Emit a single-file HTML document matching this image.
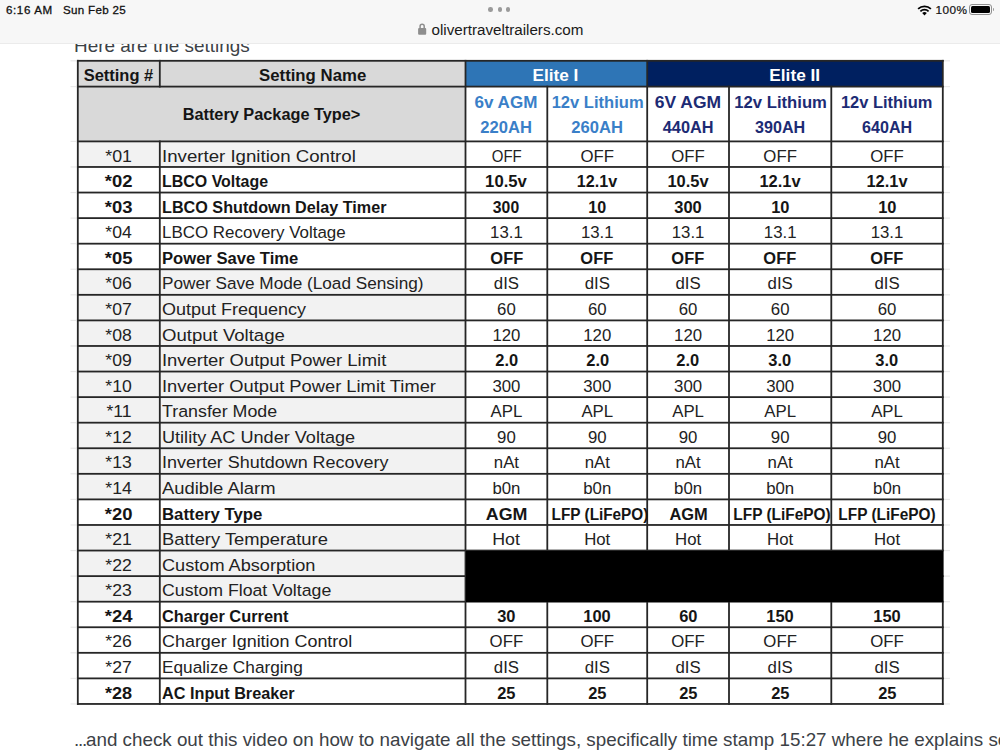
<!DOCTYPE html>
<html><head><meta charset="utf-8"><style>
html,body{margin:0;padding:0;}
body{width:1000px;height:750px;overflow:hidden;position:relative;background:#fff;font-family:"Liberation Sans",sans-serif;}
.r{position:absolute;}
.t{position:absolute;line-height:1;white-space:nowrap;text-align:center;}
.t span{display:inline-block;transform-origin:50% 50%;}
.t.l span{transform-origin:0 50%;}
#bar{position:absolute;left:0;top:0;width:1000px;height:43.4px;background:#f7f7f7;border-bottom:1px solid #ebebeb;z-index:5;}
.st{position:absolute;line-height:1;white-space:nowrap;color:#111;}
.pg{position:absolute;line-height:1;white-space:nowrap;color:#3c4146;}
</style></head><body>
<div class="pg" style="left:74px;top:36.66px;font-size:18.6px;"><span style="display:inline-block;transform-origin:0 50%;transform:scaleX(1.018)">Here are the settings</span></div>
<div id="bar">
 <div class="st" style="left:6px;top:4.28px;font-size:11.6px;letter-spacing:0.6px;-webkit-text-stroke:0.3px #111;">6:16 AM</div>
 <div class="st" style="left:63px;top:4.28px;font-size:11.6px;letter-spacing:0.6px;-webkit-text-stroke:0.3px #111;"><span style="letter-spacing:0.3px">Sun Feb 25</span></div>
 <div class="r" style="left:488px;top:7.3px;width:4.6px;height:4.6px;border-radius:50%;background:#9a9a9a"></div>
 <div class="r" style="left:497.7px;top:7.3px;width:4.6px;height:4.6px;border-radius:50%;background:#9a9a9a"></div>
 <div class="r" style="left:505.5px;top:7.3px;width:4.6px;height:4.6px;border-radius:50%;background:#9a9a9a"></div>
 <svg class="r" style="left:417px;top:22px" width="11" height="14" viewBox="0 0 11 14"><path d="M3.1 6.2 V4.3 A2.05 2.05 0 0 1 7.2 4.3 V6.2" fill="none" stroke="#8e8e8e" stroke-width="1.5"/><rect x="1.1" y="5.9" width="8.1" height="6.9" rx="1" fill="#8e8e8e"/></svg>
 <div class="st" style="left:431.5px;top:22.13px;font-size:15.2px;color:#1a1a1a">olivertraveltrailers.com</div>
 <svg class="r" style="left:917px;top:4.6px" width="15" height="11" viewBox="0 0 15 11"><path d="M7.5 10.6 L5.2 8.1 A3.3 3.3 0 0 1 9.8 8.1 Z" fill="#000"/><path d="M3.4 6.3 A5.9 5.9 0 0 1 11.6 6.3" fill="none" stroke="#000" stroke-width="1.7"/><path d="M1.1 3.9 A9.2 9.2 0 0 1 13.9 3.9" fill="none" stroke="#000" stroke-width="1.7"/></svg>
 <div class="st" style="left:935.5px;top:4.71px;font-size:11.8px;letter-spacing:0.45px;-webkit-text-stroke:0.2px #111;">100%</div>
 <div class="r" style="left:969.3px;top:4px;width:21px;height:9px;border:1px solid #8f8f8f;border-radius:3px;"></div>
 <div class="r" style="left:971.2px;top:5.8px;width:19.3px;height:7.4px;background:#000;border-radius:1.5px;"></div>
 <div class="r" style="left:993.3px;top:8px;width:1.2px;height:3.4px;background:#9a9a9a;border-radius:0 1px 1px 0;"></div>
</div>
<div class="r" style="left:77.80px;top:60.80px;width:387.70px;height:25.80px;background:#d9d9d9"></div>
<div class="r" style="left:465.50px;top:60.80px;width:181.70px;height:25.80px;background:#2e75b6"></div>
<div class="r" style="left:647.20px;top:60.80px;width:295.60px;height:25.80px;background:#002060"></div>
<div class="r" style="left:77.80px;top:86.60px;width:387.70px;height:54.80px;background:#d9d9d9"></div>
<div class="r" style="left:77.80px;top:141.40px;width:387.70px;height:25.57px;background:#f2f2f2"></div>
<div class="r" style="left:77.80px;top:269.25px;width:387.70px;height:25.57px;background:#f2f2f2"></div>
<div class="r" style="left:77.80px;top:294.83px;width:387.70px;height:25.57px;background:#f2f2f2"></div>
<div class="r" style="left:77.80px;top:320.40px;width:387.70px;height:25.57px;background:#f2f2f2"></div>
<div class="r" style="left:77.80px;top:345.97px;width:387.70px;height:25.57px;background:#f2f2f2"></div>
<div class="r" style="left:77.80px;top:371.54px;width:387.70px;height:25.57px;background:#f2f2f2"></div>
<div class="r" style="left:77.80px;top:397.11px;width:387.70px;height:25.57px;background:#f2f2f2"></div>
<div class="r" style="left:77.80px;top:422.68px;width:387.70px;height:25.57px;background:#f2f2f2"></div>
<div class="r" style="left:77.80px;top:448.25px;width:387.70px;height:25.57px;background:#f2f2f2"></div>
<div class="r" style="left:77.80px;top:473.82px;width:387.70px;height:25.57px;background:#f2f2f2"></div>
<div class="r" style="left:77.80px;top:524.97px;width:387.70px;height:25.57px;background:#f2f2f2"></div>
<div class="r" style="left:77.80px;top:550.54px;width:387.70px;height:25.57px;background:#f2f2f2"></div>
<div class="r" style="left:77.80px;top:576.11px;width:387.70px;height:25.57px;background:#f2f2f2"></div>
<svg class="r" style="left:0;top:0" width="1000" height="750" viewBox="0 0 1000 750"><rect x="76.90" y="59.90" width="866.80" height="1.8" fill="#262626"/><rect x="76.90" y="85.70" width="866.80" height="1.8" fill="#262626"/><rect x="76.90" y="140.50" width="866.80" height="1.8" fill="#262626"/><rect x="76.90" y="166.07" width="866.80" height="1.8" fill="#262626"/><rect x="76.90" y="191.64" width="866.80" height="1.8" fill="#262626"/><rect x="76.90" y="217.21" width="866.80" height="1.8" fill="#262626"/><rect x="76.90" y="242.78" width="866.80" height="1.8" fill="#262626"/><rect x="76.90" y="268.36" width="866.80" height="1.8" fill="#262626"/><rect x="76.90" y="293.93" width="866.80" height="1.8" fill="#262626"/><rect x="76.90" y="319.50" width="866.80" height="1.8" fill="#262626"/><rect x="76.90" y="345.07" width="866.80" height="1.8" fill="#262626"/><rect x="76.90" y="370.64" width="866.80" height="1.8" fill="#262626"/><rect x="76.90" y="396.21" width="866.80" height="1.8" fill="#262626"/><rect x="76.90" y="421.78" width="866.80" height="1.8" fill="#262626"/><rect x="76.90" y="447.35" width="866.80" height="1.8" fill="#262626"/><rect x="76.90" y="472.92" width="866.80" height="1.8" fill="#262626"/><rect x="76.90" y="498.49" width="866.80" height="1.8" fill="#262626"/><rect x="76.90" y="524.07" width="866.80" height="1.8" fill="#262626"/><rect x="76.90" y="549.64" width="866.80" height="1.8" fill="#262626"/><rect x="76.90" y="575.21" width="866.80" height="1.8" fill="#262626"/><rect x="76.90" y="600.78" width="866.80" height="1.8" fill="#262626"/><rect x="76.90" y="626.35" width="866.80" height="1.8" fill="#262626"/><rect x="76.90" y="651.92" width="866.80" height="1.8" fill="#262626"/><rect x="76.90" y="677.49" width="866.80" height="1.8" fill="#262626"/><rect x="76.90" y="703.06" width="866.80" height="1.8" fill="#262626"/><rect x="76.90" y="59.90" width="1.8" height="644.96" fill="#262626"/><rect x="941.90" y="59.90" width="1.8" height="644.96" fill="#262626"/><rect x="158.90" y="59.90" width="1.8" height="27.60" fill="#262626"/><rect x="158.90" y="140.50" width="1.8" height="564.36" fill="#262626"/><rect x="464.60" y="59.90" width="1.8" height="644.96" fill="#262626"/><rect x="646.30" y="59.90" width="1.8" height="644.96" fill="#262626"/><rect x="546.40" y="85.70" width="1.8" height="619.16" fill="#262626"/><rect x="728.10" y="85.70" width="1.8" height="619.16" fill="#262626"/><rect x="830.40" y="85.70" width="1.8" height="619.16" fill="#262626"/><rect x="70.5" y="60.20" width="6" height="1.2" fill="#e9e9e9"/><rect x="944" y="60.20" width="6" height="1.2" fill="#e9e9e9"/><rect x="70.5" y="86.00" width="6" height="1.2" fill="#e9e9e9"/><rect x="944" y="86.00" width="6" height="1.2" fill="#e9e9e9"/><rect x="70.5" y="140.80" width="6" height="1.2" fill="#e9e9e9"/><rect x="944" y="140.80" width="6" height="1.2" fill="#e9e9e9"/><rect x="70.5" y="166.37" width="6" height="1.2" fill="#e9e9e9"/><rect x="944" y="166.37" width="6" height="1.2" fill="#e9e9e9"/><rect x="70.5" y="191.94" width="6" height="1.2" fill="#e9e9e9"/><rect x="944" y="191.94" width="6" height="1.2" fill="#e9e9e9"/><rect x="70.5" y="217.51" width="6" height="1.2" fill="#e9e9e9"/><rect x="944" y="217.51" width="6" height="1.2" fill="#e9e9e9"/><rect x="70.5" y="243.08" width="6" height="1.2" fill="#e9e9e9"/><rect x="944" y="243.08" width="6" height="1.2" fill="#e9e9e9"/><rect x="70.5" y="268.65" width="6" height="1.2" fill="#e9e9e9"/><rect x="944" y="268.65" width="6" height="1.2" fill="#e9e9e9"/><rect x="70.5" y="294.23" width="6" height="1.2" fill="#e9e9e9"/><rect x="944" y="294.23" width="6" height="1.2" fill="#e9e9e9"/><rect x="70.5" y="319.80" width="6" height="1.2" fill="#e9e9e9"/><rect x="944" y="319.80" width="6" height="1.2" fill="#e9e9e9"/><rect x="70.5" y="345.37" width="6" height="1.2" fill="#e9e9e9"/><rect x="944" y="345.37" width="6" height="1.2" fill="#e9e9e9"/><rect x="70.5" y="370.94" width="6" height="1.2" fill="#e9e9e9"/><rect x="944" y="370.94" width="6" height="1.2" fill="#e9e9e9"/><rect x="70.5" y="396.51" width="6" height="1.2" fill="#e9e9e9"/><rect x="944" y="396.51" width="6" height="1.2" fill="#e9e9e9"/><rect x="70.5" y="422.08" width="6" height="1.2" fill="#e9e9e9"/><rect x="944" y="422.08" width="6" height="1.2" fill="#e9e9e9"/><rect x="70.5" y="447.65" width="6" height="1.2" fill="#e9e9e9"/><rect x="944" y="447.65" width="6" height="1.2" fill="#e9e9e9"/><rect x="70.5" y="473.22" width="6" height="1.2" fill="#e9e9e9"/><rect x="944" y="473.22" width="6" height="1.2" fill="#e9e9e9"/><rect x="70.5" y="498.79" width="6" height="1.2" fill="#e9e9e9"/><rect x="944" y="498.79" width="6" height="1.2" fill="#e9e9e9"/><rect x="70.5" y="524.37" width="6" height="1.2" fill="#e9e9e9"/><rect x="944" y="524.37" width="6" height="1.2" fill="#e9e9e9"/><rect x="70.5" y="549.94" width="6" height="1.2" fill="#e9e9e9"/><rect x="944" y="549.94" width="6" height="1.2" fill="#e9e9e9"/><rect x="70.5" y="575.51" width="6" height="1.2" fill="#e9e9e9"/><rect x="944" y="575.51" width="6" height="1.2" fill="#e9e9e9"/><rect x="70.5" y="601.08" width="6" height="1.2" fill="#e9e9e9"/><rect x="944" y="601.08" width="6" height="1.2" fill="#e9e9e9"/><rect x="70.5" y="626.65" width="6" height="1.2" fill="#e9e9e9"/><rect x="944" y="626.65" width="6" height="1.2" fill="#e9e9e9"/><rect x="70.5" y="652.22" width="6" height="1.2" fill="#e9e9e9"/><rect x="944" y="652.22" width="6" height="1.2" fill="#e9e9e9"/><rect x="70.5" y="677.79" width="6" height="1.2" fill="#e9e9e9"/><rect x="944" y="677.79" width="6" height="1.2" fill="#e9e9e9"/><rect x="70.5" y="703.36" width="6" height="1.2" fill="#e9e9e9"/><rect x="944" y="703.36" width="6" height="1.2" fill="#e9e9e9"/></svg>
<div class="r" style="left:465.50px;top:550.54px;width:477.80px;height:51.14px;background:#000"></div>
<div class="t" style="left:77.80px;top:67.98px;width:82.00px;font-size:16.8px;font-weight:bold;color:#151515"><span id="h_setnum" style="transform:scaleX(0.9812)">Setting #</span></div>
<div class="t" style="left:159.80px;top:67.58px;width:305.70px;font-size:16.8px;font-weight:bold;color:#151515"><span id="h_setname" style="transform:scaleX(0.9995)">Setting Name</span></div>
<div class="t" style="left:464.30px;top:67.58px;width:181.70px;font-size:16.8px;font-weight:bold;color:#fff"><span id="h_e1" style="transform:scaleX(1.0256)">Elite I</span></div>
<div class="t" style="left:647.20px;top:67.58px;width:295.60px;font-size:16.8px;font-weight:bold;color:#fff"><span id="h_e2" style="transform:scaleX(1.0283)">Elite II</span></div>
<div class="t" style="left:77.80px;top:107.38px;width:387.70px;font-size:16.8px;font-weight:bold;color:#151515"><span id="h_bpt" style="transform:scaleX(0.9710)">Battery Package Type&gt;</span></div>
<div class="t" style="left:465.50px;top:94.58px;width:81.80px;font-size:16.8px;font-weight:bold;color:#3a7fc8"><span id="s0a" style="transform:scaleX(1.0163)">6v AGM</span></div>
<div class="t" style="left:465.50px;top:120.38px;width:81.80px;font-size:16.8px;font-weight:bold;color:#3a7fc8"><span id="s0b" style="transform:scaleX(0.9882)">220AH</span></div>
<div class="t" style="left:547.30px;top:94.58px;width:99.90px;font-size:16.8px;font-weight:bold;color:#3a7fc8"><span id="s1a" style="transform:scaleX(0.9865)">12v Lithium</span></div>
<div class="t" style="left:547.30px;top:120.38px;width:99.90px;font-size:16.8px;font-weight:bold;color:#3a7fc8"><span id="s1b" style="transform:scaleX(0.9882)">260AH</span></div>
<div class="t" style="left:647.20px;top:94.58px;width:81.80px;font-size:16.8px;font-weight:bold;color:#1d2b74"><span id="s2a" style="transform:scaleX(1.0414)">6V AGM</span></div>
<div class="t" style="left:647.20px;top:120.38px;width:81.80px;font-size:16.8px;font-weight:bold;color:#1d2b74"><span id="s2b" style="transform:scaleX(0.9718)">440AH</span></div>
<div class="t" style="left:729.00px;top:94.58px;width:102.30px;font-size:16.8px;font-weight:bold;color:#1d2b74"><span id="s3a" style="transform:scaleX(0.9931)">12v Lithium</span></div>
<div class="t" style="left:729.00px;top:120.38px;width:102.30px;font-size:16.8px;font-weight:bold;color:#1d2b74"><span id="s3b" style="transform:scaleX(0.9604)">390AH</span></div>
<div class="t" style="left:831.30px;top:94.58px;width:111.50px;font-size:16.8px;font-weight:bold;color:#1d2b74"><span id="s4a" style="transform:scaleX(0.9800)">12v Lithium</span></div>
<div class="t" style="left:831.30px;top:120.38px;width:111.50px;font-size:16.8px;font-weight:bold;color:#1d2b74"><span id="s4b" style="transform:scaleX(0.9604)">640AH</span></div>
<div class="t" style="left:77.80px;top:148.58px;width:82.00px;font-size:16.8px;font-weight:normal;color:#222"><span id="n0" style="transform:scaleX(1.0602)">*01</span></div>
<div class="t l" style="left:162.20px;top:148.58px;font-size:16.8px;font-weight:normal;color:#222"><span id="nm0" style="transform:scaleX(1.1113)">Inverter Ignition Control</span></div>
<div class="t" style="left:465.50px;top:148.58px;width:81.80px;font-size:16.8px;font-weight:normal;color:#222"><span id="d0_0" style="transform:scaleX(0.8922)">OFF</span></div>
<div class="t" style="left:547.30px;top:148.58px;width:99.90px;font-size:16.8px;font-weight:normal;color:#222"><span id="d0_1" style="transform:scaleX(1.0000)">OFF</span></div>
<div class="t" style="left:647.20px;top:148.58px;width:81.80px;font-size:16.8px;font-weight:normal;color:#222"><span id="d0_2" style="transform:scaleX(1.0000)">OFF</span></div>
<div class="t" style="left:729.00px;top:148.58px;width:102.30px;font-size:16.8px;font-weight:normal;color:#222"><span id="d0_3" style="transform:scaleX(1.0000)">OFF</span></div>
<div class="t" style="left:831.30px;top:148.58px;width:111.50px;font-size:16.8px;font-weight:normal;color:#222"><span id="d0_4" style="transform:scaleX(1.0000)">OFF</span></div>
<div class="t" style="left:77.80px;top:174.15px;width:82.00px;font-size:16.8px;font-weight:bold;color:#151515"><span id="n1" style="transform:scaleX(1.1000)">*02</span></div>
<div class="t l" style="left:162.20px;top:174.15px;font-size:16.8px;font-weight:bold;color:#151515"><span id="nm1" style="transform:scaleX(0.9509)">LBCO Voltage</span></div>
<div class="t" style="left:465.50px;top:174.15px;width:81.80px;font-size:16.8px;font-weight:bold;color:#151515"><span id="d1_0" style="transform:scaleX(0.9945)">10.5v</span></div>
<div class="t" style="left:547.30px;top:174.15px;width:99.90px;font-size:16.8px;font-weight:bold;color:#151515"><span id="d1_1" style="transform:scaleX(0.9606)">12.1v</span></div>
<div class="t" style="left:647.20px;top:174.15px;width:81.80px;font-size:16.8px;font-weight:bold;color:#151515"><span id="d1_2" style="transform:scaleX(0.9800)">10.5v</span></div>
<div class="t" style="left:729.00px;top:174.15px;width:102.30px;font-size:16.8px;font-weight:bold;color:#151515"><span id="d1_3" style="transform:scaleX(0.9800)">12.1v</span></div>
<div class="t" style="left:831.30px;top:174.15px;width:111.50px;font-size:16.8px;font-weight:bold;color:#151515"><span id="d1_4" style="transform:scaleX(0.9800)">12.1v</span></div>
<div class="t" style="left:77.80px;top:199.72px;width:82.00px;font-size:16.8px;font-weight:bold;color:#151515"><span id="n2" style="transform:scaleX(1.1000)">*03</span></div>
<div class="t l" style="left:162.20px;top:199.72px;font-size:16.8px;font-weight:bold;color:#151515"><span id="nm2" style="transform:scaleX(0.9643)">LBCO Shutdown Delay Timer</span></div>
<div class="t" style="left:465.50px;top:199.72px;width:81.80px;font-size:16.8px;font-weight:bold;color:#151515"><span id="d2_0" style="transform:scaleX(0.9380)">300</span></div>
<div class="t" style="left:547.30px;top:199.72px;width:99.90px;font-size:16.8px;font-weight:bold;color:#151515"><span id="d2_1" style="transform:scaleX(0.9600)">10</span></div>
<div class="t" style="left:647.20px;top:199.72px;width:81.80px;font-size:16.8px;font-weight:bold;color:#151515"><span id="d2_2" style="transform:scaleX(0.9800)">300</span></div>
<div class="t" style="left:729.00px;top:199.72px;width:102.30px;font-size:16.8px;font-weight:bold;color:#151515"><span id="d2_3" style="transform:scaleX(0.9800)">10</span></div>
<div class="t" style="left:831.30px;top:199.72px;width:111.50px;font-size:16.8px;font-weight:bold;color:#151515"><span id="d2_4" style="transform:scaleX(0.9800)">10</span></div>
<div class="t" style="left:77.80px;top:225.29px;width:82.00px;font-size:16.8px;font-weight:normal;color:#222"><span id="n3" style="transform:scaleX(1.0500)">*04</span></div>
<div class="t l" style="left:162.20px;top:225.29px;font-size:16.8px;font-weight:normal;color:#222"><span id="nm3" style="transform:scaleX(1.0099)">LBCO Recovery Voltage</span></div>
<div class="t" style="left:465.50px;top:225.29px;width:81.80px;font-size:16.8px;font-weight:normal;color:#222"><span id="d3_0" style="transform:scaleX(1.0000)">13.1</span></div>
<div class="t" style="left:547.30px;top:225.29px;width:99.90px;font-size:16.8px;font-weight:normal;color:#222"><span id="d3_1" style="transform:scaleX(1.0000)">13.1</span></div>
<div class="t" style="left:647.20px;top:225.29px;width:81.80px;font-size:16.8px;font-weight:normal;color:#222"><span id="d3_2" style="transform:scaleX(1.0000)">13.1</span></div>
<div class="t" style="left:729.00px;top:225.29px;width:102.30px;font-size:16.8px;font-weight:normal;color:#222"><span id="d3_3" style="transform:scaleX(1.0000)">13.1</span></div>
<div class="t" style="left:831.30px;top:225.29px;width:111.50px;font-size:16.8px;font-weight:normal;color:#222"><span id="d3_4" style="transform:scaleX(1.0000)">13.1</span></div>
<div class="t" style="left:77.80px;top:250.86px;width:82.00px;font-size:16.8px;font-weight:bold;color:#151515"><span id="n4" style="transform:scaleX(1.1000)">*05</span></div>
<div class="t l" style="left:162.20px;top:250.86px;font-size:16.8px;font-weight:bold;color:#151515"><span id="nm4" style="transform:scaleX(0.9893)">Power Save Time</span></div>
<div class="t" style="left:465.50px;top:250.86px;width:81.80px;font-size:16.8px;font-weight:bold;color:#151515"><span id="d4_0" style="transform:scaleX(0.9800)">OFF</span></div>
<div class="t" style="left:547.30px;top:250.86px;width:99.90px;font-size:16.8px;font-weight:bold;color:#151515"><span id="d4_1" style="transform:scaleX(0.9800)">OFF</span></div>
<div class="t" style="left:647.20px;top:250.86px;width:81.80px;font-size:16.8px;font-weight:bold;color:#151515"><span id="d4_2" style="transform:scaleX(0.9800)">OFF</span></div>
<div class="t" style="left:729.00px;top:250.86px;width:102.30px;font-size:16.8px;font-weight:bold;color:#151515"><span id="d4_3" style="transform:scaleX(0.9800)">OFF</span></div>
<div class="t" style="left:831.30px;top:250.86px;width:111.50px;font-size:16.8px;font-weight:bold;color:#151515"><span id="d4_4" style="transform:scaleX(0.9800)">OFF</span></div>
<div class="t" style="left:77.80px;top:276.43px;width:82.00px;font-size:16.8px;font-weight:normal;color:#222"><span id="n5" style="transform:scaleX(1.0500)">*06</span></div>
<div class="t l" style="left:162.20px;top:276.43px;font-size:16.8px;font-weight:normal;color:#222"><span id="nm5" style="transform:scaleX(1.0230)">Power Save Mode (Load Sensing)</span></div>
<div class="t" style="left:465.50px;top:276.43px;width:81.80px;font-size:16.8px;font-weight:normal;color:#222"><span id="d5_0" style="transform:scaleX(1.0000)">dIS</span></div>
<div class="t" style="left:547.30px;top:276.43px;width:99.90px;font-size:16.8px;font-weight:normal;color:#222"><span id="d5_1" style="transform:scaleX(1.0000)">dIS</span></div>
<div class="t" style="left:647.20px;top:276.43px;width:81.80px;font-size:16.8px;font-weight:normal;color:#222"><span id="d5_2" style="transform:scaleX(1.0000)">dIS</span></div>
<div class="t" style="left:729.00px;top:276.43px;width:102.30px;font-size:16.8px;font-weight:normal;color:#222"><span id="d5_3" style="transform:scaleX(1.0000)">dIS</span></div>
<div class="t" style="left:831.30px;top:276.43px;width:111.50px;font-size:16.8px;font-weight:normal;color:#222"><span id="d5_4" style="transform:scaleX(1.0000)">dIS</span></div>
<div class="t" style="left:77.80px;top:302.00px;width:82.00px;font-size:16.8px;font-weight:normal;color:#222"><span id="n6" style="transform:scaleX(1.0500)">*07</span></div>
<div class="t l" style="left:162.20px;top:302.00px;font-size:16.8px;font-weight:normal;color:#222"><span id="nm6" style="transform:scaleX(1.0725)">Output Frequency</span></div>
<div class="t" style="left:465.50px;top:302.00px;width:81.80px;font-size:16.8px;font-weight:normal;color:#222"><span id="d6_0" style="transform:scaleX(1.0000)">60</span></div>
<div class="t" style="left:547.30px;top:302.00px;width:99.90px;font-size:16.8px;font-weight:normal;color:#222"><span id="d6_1" style="transform:scaleX(1.0000)">60</span></div>
<div class="t" style="left:647.20px;top:302.00px;width:81.80px;font-size:16.8px;font-weight:normal;color:#222"><span id="d6_2" style="transform:scaleX(1.0000)">60</span></div>
<div class="t" style="left:729.00px;top:302.00px;width:102.30px;font-size:16.8px;font-weight:normal;color:#222"><span id="d6_3" style="transform:scaleX(1.0000)">60</span></div>
<div class="t" style="left:831.30px;top:302.00px;width:111.50px;font-size:16.8px;font-weight:normal;color:#222"><span id="d6_4" style="transform:scaleX(1.0000)">60</span></div>
<div class="t" style="left:77.80px;top:327.58px;width:82.00px;font-size:16.8px;font-weight:normal;color:#222"><span id="n7" style="transform:scaleX(1.0500)">*08</span></div>
<div class="t l" style="left:162.20px;top:327.58px;font-size:16.8px;font-weight:normal;color:#222"><span id="nm7" style="transform:scaleX(1.1063)">Output Voltage</span></div>
<div class="t" style="left:465.50px;top:327.58px;width:81.80px;font-size:16.8px;font-weight:normal;color:#222"><span id="d7_0" style="transform:scaleX(1.0000)">120</span></div>
<div class="t" style="left:547.30px;top:327.58px;width:99.90px;font-size:16.8px;font-weight:normal;color:#222"><span id="d7_1" style="transform:scaleX(1.0000)">120</span></div>
<div class="t" style="left:647.20px;top:327.58px;width:81.80px;font-size:16.8px;font-weight:normal;color:#222"><span id="d7_2" style="transform:scaleX(1.0000)">120</span></div>
<div class="t" style="left:729.00px;top:327.58px;width:102.30px;font-size:16.8px;font-weight:normal;color:#222"><span id="d7_3" style="transform:scaleX(1.0000)">120</span></div>
<div class="t" style="left:831.30px;top:327.58px;width:111.50px;font-size:16.8px;font-weight:normal;color:#222"><span id="d7_4" style="transform:scaleX(1.0000)">120</span></div>
<div class="t" style="left:77.80px;top:353.15px;width:82.00px;font-size:16.8px;font-weight:normal;color:#222"><span id="n8" style="transform:scaleX(1.0500)">*09</span></div>
<div class="t l" style="left:162.20px;top:353.15px;font-size:16.8px;font-weight:normal;color:#222"><span id="nm8" style="transform:scaleX(1.0979)">Inverter Output Power Limit</span></div>
<div class="t" style="left:465.50px;top:353.15px;width:81.80px;font-size:16.8px;font-weight:bold;color:#151515"><span id="d8_0" style="transform:scaleX(0.9800)">2.0</span></div>
<div class="t" style="left:547.30px;top:353.15px;width:99.90px;font-size:16.8px;font-weight:bold;color:#151515"><span id="d8_1" style="transform:scaleX(0.9800)">2.0</span></div>
<div class="t" style="left:647.20px;top:353.15px;width:81.80px;font-size:16.8px;font-weight:bold;color:#151515"><span id="d8_2" style="transform:scaleX(0.9800)">2.0</span></div>
<div class="t" style="left:729.00px;top:353.15px;width:102.30px;font-size:16.8px;font-weight:bold;color:#151515"><span id="d8_3" style="transform:scaleX(0.9800)">3.0</span></div>
<div class="t" style="left:831.30px;top:353.15px;width:111.50px;font-size:16.8px;font-weight:bold;color:#151515"><span id="d8_4" style="transform:scaleX(0.9800)">3.0</span></div>
<div class="t" style="left:77.80px;top:378.72px;width:82.00px;font-size:16.8px;font-weight:normal;color:#222"><span id="n9" style="transform:scaleX(1.0500)">*10</span></div>
<div class="t l" style="left:162.20px;top:378.72px;font-size:16.8px;font-weight:normal;color:#222"><span id="nm9" style="transform:scaleX(1.0920)">Inverter Output Power Limit Timer</span></div>
<div class="t" style="left:465.50px;top:378.72px;width:81.80px;font-size:16.8px;font-weight:normal;color:#222"><span id="d9_0" style="transform:scaleX(1.0000)">300</span></div>
<div class="t" style="left:547.30px;top:378.72px;width:99.90px;font-size:16.8px;font-weight:normal;color:#222"><span id="d9_1" style="transform:scaleX(1.0000)">300</span></div>
<div class="t" style="left:647.20px;top:378.72px;width:81.80px;font-size:16.8px;font-weight:normal;color:#222"><span id="d9_2" style="transform:scaleX(1.0000)">300</span></div>
<div class="t" style="left:729.00px;top:378.72px;width:102.30px;font-size:16.8px;font-weight:normal;color:#222"><span id="d9_3" style="transform:scaleX(1.0000)">300</span></div>
<div class="t" style="left:831.30px;top:378.72px;width:111.50px;font-size:16.8px;font-weight:normal;color:#222"><span id="d9_4" style="transform:scaleX(1.0000)">300</span></div>
<div class="t" style="left:77.80px;top:404.29px;width:82.00px;font-size:16.8px;font-weight:normal;color:#222"><span id="n10" style="transform:scaleX(1.0500)">*11</span></div>
<div class="t l" style="left:162.20px;top:404.29px;font-size:16.8px;font-weight:normal;color:#222"><span id="nm10" style="transform:scaleX(1.0616)">Transfer Mode</span></div>
<div class="t" style="left:465.50px;top:404.29px;width:81.80px;font-size:16.8px;font-weight:normal;color:#222"><span id="d10_0" style="transform:scaleX(1.0000)">APL</span></div>
<div class="t" style="left:547.30px;top:404.29px;width:99.90px;font-size:16.8px;font-weight:normal;color:#222"><span id="d10_1" style="transform:scaleX(1.0000)">APL</span></div>
<div class="t" style="left:647.20px;top:404.29px;width:81.80px;font-size:16.8px;font-weight:normal;color:#222"><span id="d10_2" style="transform:scaleX(1.0000)">APL</span></div>
<div class="t" style="left:729.00px;top:404.29px;width:102.30px;font-size:16.8px;font-weight:normal;color:#222"><span id="d10_3" style="transform:scaleX(1.0000)">APL</span></div>
<div class="t" style="left:831.30px;top:404.29px;width:111.50px;font-size:16.8px;font-weight:normal;color:#222"><span id="d10_4" style="transform:scaleX(1.0000)">APL</span></div>
<div class="t" style="left:77.80px;top:429.86px;width:82.00px;font-size:16.8px;font-weight:normal;color:#222"><span id="n11" style="transform:scaleX(1.0500)">*12</span></div>
<div class="t l" style="left:162.20px;top:429.86px;font-size:16.8px;font-weight:normal;color:#222"><span id="nm11" style="transform:scaleX(1.0786)">Utility AC Under Voltage</span></div>
<div class="t" style="left:465.50px;top:429.86px;width:81.80px;font-size:16.8px;font-weight:normal;color:#222"><span id="d11_0" style="transform:scaleX(1.0000)">90</span></div>
<div class="t" style="left:547.30px;top:429.86px;width:99.90px;font-size:16.8px;font-weight:normal;color:#222"><span id="d11_1" style="transform:scaleX(1.0000)">90</span></div>
<div class="t" style="left:647.20px;top:429.86px;width:81.80px;font-size:16.8px;font-weight:normal;color:#222"><span id="d11_2" style="transform:scaleX(1.0000)">90</span></div>
<div class="t" style="left:729.00px;top:429.86px;width:102.30px;font-size:16.8px;font-weight:normal;color:#222"><span id="d11_3" style="transform:scaleX(1.0000)">90</span></div>
<div class="t" style="left:831.30px;top:429.86px;width:111.50px;font-size:16.8px;font-weight:normal;color:#222"><span id="d11_4" style="transform:scaleX(1.0000)">90</span></div>
<div class="t" style="left:77.80px;top:455.43px;width:82.00px;font-size:16.8px;font-weight:normal;color:#222"><span id="n12" style="transform:scaleX(1.0500)">*13</span></div>
<div class="t l" style="left:162.20px;top:455.43px;font-size:16.8px;font-weight:normal;color:#222"><span id="nm12" style="transform:scaleX(1.0693)">Inverter Shutdown Recovery</span></div>
<div class="t" style="left:465.50px;top:455.43px;width:81.80px;font-size:16.8px;font-weight:normal;color:#222"><span id="d12_0" style="transform:scaleX(1.0000)">nAt</span></div>
<div class="t" style="left:547.30px;top:455.43px;width:99.90px;font-size:16.8px;font-weight:normal;color:#222"><span id="d12_1" style="transform:scaleX(1.0000)">nAt</span></div>
<div class="t" style="left:647.20px;top:455.43px;width:81.80px;font-size:16.8px;font-weight:normal;color:#222"><span id="d12_2" style="transform:scaleX(1.0000)">nAt</span></div>
<div class="t" style="left:729.00px;top:455.43px;width:102.30px;font-size:16.8px;font-weight:normal;color:#222"><span id="d12_3" style="transform:scaleX(1.0000)">nAt</span></div>
<div class="t" style="left:831.30px;top:455.43px;width:111.50px;font-size:16.8px;font-weight:normal;color:#222"><span id="d12_4" style="transform:scaleX(1.0000)">nAt</span></div>
<div class="t" style="left:77.80px;top:481.00px;width:82.00px;font-size:16.8px;font-weight:normal;color:#222"><span id="n13" style="transform:scaleX(1.0500)">*14</span></div>
<div class="t l" style="left:162.20px;top:481.00px;font-size:16.8px;font-weight:normal;color:#222"><span id="nm13" style="transform:scaleX(1.0958)">Audible Alarm</span></div>
<div class="t" style="left:465.50px;top:481.00px;width:81.80px;font-size:16.8px;font-weight:normal;color:#222"><span id="d13_0" style="transform:scaleX(1.0000)">b0n</span></div>
<div class="t" style="left:547.30px;top:481.00px;width:99.90px;font-size:16.8px;font-weight:normal;color:#222"><span id="d13_1" style="transform:scaleX(1.0000)">b0n</span></div>
<div class="t" style="left:647.20px;top:481.00px;width:81.80px;font-size:16.8px;font-weight:normal;color:#222"><span id="d13_2" style="transform:scaleX(1.0000)">b0n</span></div>
<div class="t" style="left:729.00px;top:481.00px;width:102.30px;font-size:16.8px;font-weight:normal;color:#222"><span id="d13_3" style="transform:scaleX(1.0000)">b0n</span></div>
<div class="t" style="left:831.30px;top:481.00px;width:111.50px;font-size:16.8px;font-weight:normal;color:#222"><span id="d13_4" style="transform:scaleX(1.0000)">b0n</span></div>
<div class="t" style="left:77.80px;top:506.57px;width:82.00px;font-size:16.8px;font-weight:bold;color:#151515"><span id="n14" style="transform:scaleX(1.1000)">*20</span></div>
<div class="t l" style="left:162.20px;top:506.57px;font-size:16.8px;font-weight:bold;color:#151515"><span id="nm14" style="transform:scaleX(1.0004)">Battery Type</span></div>
<div class="t" style="left:465.50px;top:506.57px;width:81.80px;font-size:16.8px;font-weight:bold;color:#151515"><span id="d14_0" style="transform:scaleX(1.0644)">AGM</span></div>
<div class="t" style="left:547.30px;top:506.57px;width:99.90px;font-size:16.8px;font-weight:bold;color:#151515"><span id="d14_1" style="transform:scaleX(0.9130)">LFP (LiFePO)</span></div>
<div class="t" style="left:647.20px;top:506.57px;width:81.80px;font-size:16.8px;font-weight:bold;color:#151515"><span id="d14_2" style="transform:scaleX(0.9800)">AGM</span></div>
<div class="t" style="left:729.00px;top:506.57px;width:102.30px;font-size:16.8px;font-weight:bold;color:#151515"><span id="d14_3" style="transform:scaleX(0.9180)">LFP (LiFePO)</span></div>
<div class="t" style="left:831.30px;top:506.57px;width:111.50px;font-size:16.8px;font-weight:bold;color:#151515"><span id="d14_4" style="transform:scaleX(0.9180)">LFP (LiFePO)</span></div>
<div class="t" style="left:77.80px;top:532.14px;width:82.00px;font-size:16.8px;font-weight:normal;color:#222"><span id="n15" style="transform:scaleX(1.0500)">*21</span></div>
<div class="t l" style="left:162.20px;top:532.14px;font-size:16.8px;font-weight:normal;color:#222"><span id="nm15" style="transform:scaleX(1.0933)">Battery Temperature</span></div>
<div class="t" style="left:465.50px;top:532.14px;width:81.80px;font-size:16.8px;font-weight:normal;color:#222"><span id="d15_0" style="transform:scaleX(1.0627)">Hot</span></div>
<div class="t" style="left:547.30px;top:532.14px;width:99.90px;font-size:16.8px;font-weight:normal;color:#222"><span id="d15_1" style="transform:scaleX(1.0000)">Hot</span></div>
<div class="t" style="left:647.20px;top:532.14px;width:81.80px;font-size:16.8px;font-weight:normal;color:#222"><span id="d15_2" style="transform:scaleX(1.0000)">Hot</span></div>
<div class="t" style="left:729.00px;top:532.14px;width:102.30px;font-size:16.8px;font-weight:normal;color:#222"><span id="d15_3" style="transform:scaleX(1.0000)">Hot</span></div>
<div class="t" style="left:831.30px;top:532.14px;width:111.50px;font-size:16.8px;font-weight:normal;color:#222"><span id="d15_4" style="transform:scaleX(1.0000)">Hot</span></div>
<div class="t" style="left:77.80px;top:557.71px;width:82.00px;font-size:16.8px;font-weight:normal;color:#222"><span id="n16" style="transform:scaleX(1.0500)">*22</span></div>
<div class="t l" style="left:162.20px;top:557.71px;font-size:16.8px;font-weight:normal;color:#222"><span id="nm16" style="transform:scaleX(1.0818)">Custom Absorption</span></div>
<div class="t" style="left:77.80px;top:583.29px;width:82.00px;font-size:16.8px;font-weight:normal;color:#222"><span id="n17" style="transform:scaleX(1.0500)">*23</span></div>
<div class="t l" style="left:162.20px;top:583.29px;font-size:16.8px;font-weight:normal;color:#222"><span id="nm17" style="transform:scaleX(1.0548)">Custom Float Voltage</span></div>
<div class="t" style="left:77.80px;top:608.86px;width:82.00px;font-size:16.8px;font-weight:bold;color:#151515"><span id="n18" style="transform:scaleX(1.1000)">*24</span></div>
<div class="t l" style="left:162.20px;top:608.86px;font-size:16.8px;font-weight:bold;color:#151515"><span id="nm18" style="transform:scaleX(0.9756)">Charger Current</span></div>
<div class="t" style="left:465.50px;top:608.86px;width:81.80px;font-size:16.8px;font-weight:bold;color:#151515"><span id="d18_0" style="transform:scaleX(0.9800)">30</span></div>
<div class="t" style="left:547.30px;top:608.86px;width:99.90px;font-size:16.8px;font-weight:bold;color:#151515"><span id="d18_1" style="transform:scaleX(0.9800)">100</span></div>
<div class="t" style="left:647.20px;top:608.86px;width:81.80px;font-size:16.8px;font-weight:bold;color:#151515"><span id="d18_2" style="transform:scaleX(0.9800)">60</span></div>
<div class="t" style="left:729.00px;top:608.86px;width:102.30px;font-size:16.8px;font-weight:bold;color:#151515"><span id="d18_3" style="transform:scaleX(0.9800)">150</span></div>
<div class="t" style="left:831.30px;top:608.86px;width:111.50px;font-size:16.8px;font-weight:bold;color:#151515"><span id="d18_4" style="transform:scaleX(0.9800)">150</span></div>
<div class="t" style="left:77.80px;top:634.43px;width:82.00px;font-size:16.8px;font-weight:normal;color:#222"><span id="n19" style="transform:scaleX(1.0500)">*26</span></div>
<div class="t l" style="left:162.20px;top:634.43px;font-size:16.8px;font-weight:normal;color:#222"><span id="nm19" style="transform:scaleX(1.0679)">Charger Ignition Control</span></div>
<div class="t" style="left:465.50px;top:634.43px;width:81.80px;font-size:16.8px;font-weight:normal;color:#222"><span id="d19_0" style="transform:scaleX(1.0000)">OFF</span></div>
<div class="t" style="left:547.30px;top:634.43px;width:99.90px;font-size:16.8px;font-weight:normal;color:#222"><span id="d19_1" style="transform:scaleX(1.0000)">OFF</span></div>
<div class="t" style="left:647.20px;top:634.43px;width:81.80px;font-size:16.8px;font-weight:normal;color:#222"><span id="d19_2" style="transform:scaleX(1.0000)">OFF</span></div>
<div class="t" style="left:729.00px;top:634.43px;width:102.30px;font-size:16.8px;font-weight:normal;color:#222"><span id="d19_3" style="transform:scaleX(1.0000)">OFF</span></div>
<div class="t" style="left:831.30px;top:634.43px;width:111.50px;font-size:16.8px;font-weight:normal;color:#222"><span id="d19_4" style="transform:scaleX(1.0000)">OFF</span></div>
<div class="t" style="left:77.80px;top:660.00px;width:82.00px;font-size:16.8px;font-weight:normal;color:#222"><span id="n20" style="transform:scaleX(1.0500)">*27</span></div>
<div class="t l" style="left:162.20px;top:660.00px;font-size:16.8px;font-weight:normal;color:#222"><span id="nm20" style="transform:scaleX(1.0265)">Equalize Charging</span></div>
<div class="t" style="left:465.50px;top:660.00px;width:81.80px;font-size:16.8px;font-weight:normal;color:#222"><span id="d20_0" style="transform:scaleX(1.0000)">dIS</span></div>
<div class="t" style="left:547.30px;top:660.00px;width:99.90px;font-size:16.8px;font-weight:normal;color:#222"><span id="d20_1" style="transform:scaleX(1.0000)">dIS</span></div>
<div class="t" style="left:647.20px;top:660.00px;width:81.80px;font-size:16.8px;font-weight:normal;color:#222"><span id="d20_2" style="transform:scaleX(1.0000)">dIS</span></div>
<div class="t" style="left:729.00px;top:660.00px;width:102.30px;font-size:16.8px;font-weight:normal;color:#222"><span id="d20_3" style="transform:scaleX(1.0000)">dIS</span></div>
<div class="t" style="left:831.30px;top:660.00px;width:111.50px;font-size:16.8px;font-weight:normal;color:#222"><span id="d20_4" style="transform:scaleX(1.0000)">dIS</span></div>
<div class="t" style="left:77.80px;top:685.57px;width:82.00px;font-size:16.8px;font-weight:bold;color:#151515"><span id="n21" style="transform:scaleX(1.0774)">*28</span></div>
<div class="t l" style="left:162.20px;top:685.57px;font-size:16.8px;font-weight:bold;color:#151515"><span id="nm21" style="transform:scaleX(0.9674)">AC Input Breaker</span></div>
<div class="t" style="left:465.50px;top:685.57px;width:81.80px;font-size:16.8px;font-weight:bold;color:#151515"><span id="d21_0" style="transform:scaleX(0.9800)">25</span></div>
<div class="t" style="left:547.30px;top:685.57px;width:99.90px;font-size:16.8px;font-weight:bold;color:#151515"><span id="d21_1" style="transform:scaleX(0.9800)">25</span></div>
<div class="t" style="left:647.20px;top:685.57px;width:81.80px;font-size:16.8px;font-weight:bold;color:#151515"><span id="d21_2" style="transform:scaleX(0.9800)">25</span></div>
<div class="t" style="left:729.00px;top:685.57px;width:102.30px;font-size:16.8px;font-weight:bold;color:#151515"><span id="d21_3" style="transform:scaleX(0.9800)">25</span></div>
<div class="t" style="left:831.30px;top:685.57px;width:111.50px;font-size:16.8px;font-weight:bold;color:#151515"><span id="d21_4" style="transform:scaleX(0.9800)">25</span></div>
<div class="pg" style="left:74px;top:731.36px;font-size:18.6px;"><span style="display:inline-block;transform-origin:0 50%;transform:scaleX(1.0105)"><span style="letter-spacing:-1.2px">...</span>and check out this video on how to navigate all the settings, specifically time stamp 15:27 where he explains several</span></div>
</body></html>
